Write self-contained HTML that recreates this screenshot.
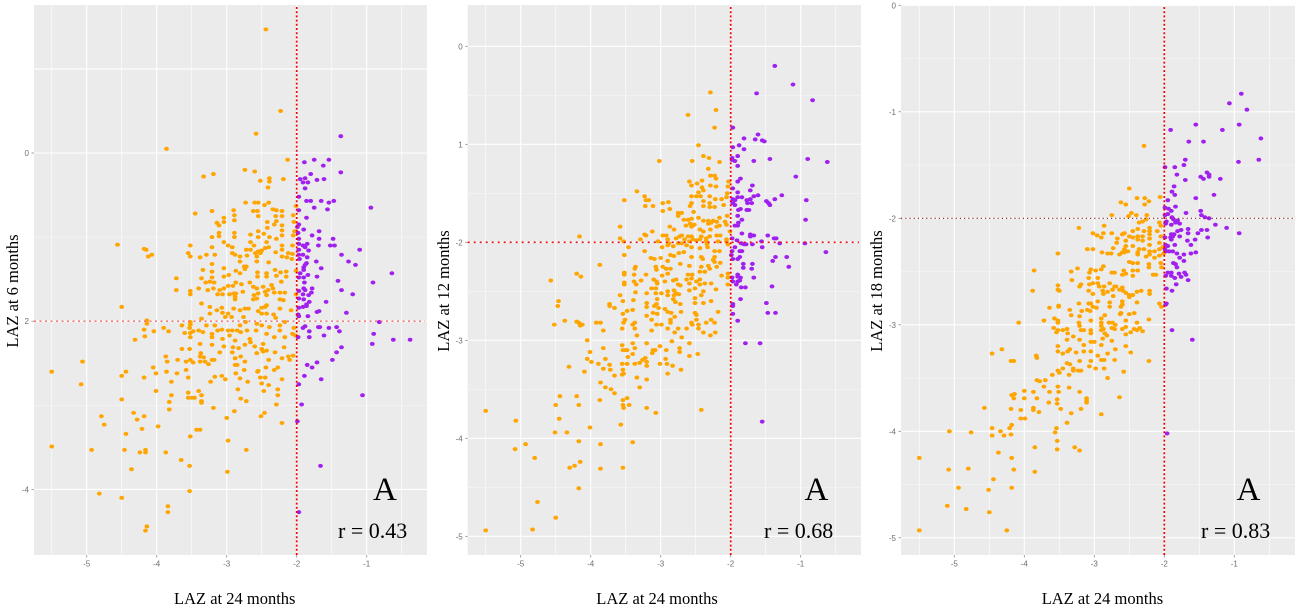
<!DOCTYPE html>
<html lang="en">
<head>
<meta charset="utf-8">
<title>LAZ scatter panels</title>
<style>
html,body{margin:0;padding:0;background:#fff;width:1300px;height:611px;overflow:hidden}
svg{display:block}
.axis-title{font-family:"Liberation Serif",serif;font-size:16.5px;fill:#000}
.tick-label{font-family:"Liberation Sans",sans-serif;font-size:8px;fill:#6e6e6e}
.letter{font-family:"Liberation Serif",serif;font-size:33px;fill:#000}
.corr{font-family:"Liberation Serif",serif;font-size:22px;fill:#000}
</style>
</head>
<body>
<svg id="chart" width="1300" height="611" viewBox="0 0 1300 611" xmlns="http://www.w3.org/2000/svg"></svg>
<script>
const xTicks = [-5, -4, -3, -2, -1];
const xTickLabels = ["-5", "-4", "-3", "-2", "-1"];
const xGridMinor = [-5.5, -4.5, -3.5, -2.5, -1.5, -0.5];
const threshold = -2;

const yTicks6 = [0, -2, -4];
const yTickLabels6 = ["0", "2", "-4"];
const yMajor6 = [1, 0, -2, -4];
const yMinor6 = [-1, -3];

const yTicks12 = [0, -1, -2, -3, -4, -5];
const yTickLabels12 = ["0", "1", "-2", "-3", "-4", "-5"];
const yMajor12 = [0, -1, -2, -3, -4, -5];
const yMinor12 = [-0.5, -1.5, -2.5, -3.5, -4.5];

const yTicks18 = [0, -1, -2, -3, -4, -5];
const yTickLabels18 = ["0", "-1", "-2", "-3", "-4", "-5"];
const yMajor18 = [0, -1, -2, -3, -4, -5];
const yMinor18 = [-0.5, -1.5, -2.5, -3.5, -4.5];

const orange6 = [[-2.44,1.47],[-2.23,.5],[-2.58,.23],[-3.86,.05],[-2.13,-.08],[-2.74,-.2],[-2.6,-.22],[-3.19,-.25],[-3.33,-.28],[-2.52,-.33],[-2.39,-.3],[-2.39,-.34],[-2.19,-.31],[-2.41,-.41],[-2.73,-.59],[-2.6,-.59],[-2.55,-.59],[-2.46,-.62],[-2.4,-.59],[-2.01,-.63],[-2.9,-.68],[-3.21,-.69],[-3.45,-.72],[-2.62,-.69],[-2.56,-.69],[-2.34,-.67],[-2.29,-.68],[-2.21,-.69],[-2.89,-.74],[-2.55,-.75],[-2.3,-.75],[-2.21,-.75],[-2.05,-.74],[-3.04,-.77],[-2.89,-.8],[-3.14,-.83],[-3.04,-.82],[-3.11,-.86],[-2.42,-.82],[-2.29,-.81],[-2.32,-.85],[-2.04,-.82],[-2.21,-.86],[-2.42,-.89],[-2.21,-.92],[-2.55,-.93],[-2.47,-.96],[-2.03,-.93],[-3.11,-.95],[-3.11,-.99],[-2.89,-.95],[-2.89,-1],[-3.21,-1],[-2.66,-.97],[-2.55,-1],[-2.39,-1],[-2.29,-1.02],[-2.21,-.98],[-2.05,-.98],[-2.43,-1.06],[-3.04,-1.06],[-2.66,-1.06],[-3.52,-1.1],[-4.56,-1.09],[-4.18,-1.14],[-4.15,-1.15],[-4.07,-1.21],[-4.12,-1.23],[-3.55,-1.19],[-3.52,-1.23],[-3.38,-1.24],[-3.29,-1.21],[-3.21,-1.12],[-3.17,-1.21],[-2.98,-1.1],[-2.92,-1.12],[-2.92,-1.19],[-2.88,-1.21],[-2.81,-1.23],[-2.72,-1.15],[-2.71,-1.22],[-2.61,-1.1],[-2.66,-1.15],[-2.59,-1.19],[-2.55,-1.17],[-2.5,-1.16],[-2.45,-1.13],[-2.57,-1.23],[-2.52,-1.19],[-2.4,-1.12],[-2.3,-1.18],[-2.21,-1.1],[-2.21,-1.15],[-2.06,-1.1],[-2.21,-1.23],[-2.14,-1.24],[-2.12,-1.19],[-2.07,-1.26],[-2.06,-1.2],[-2.4,-1.3],[-2.57,-1.29],[-2.81,-1.29],[-3.21,-1.32],[-2.75,-1.35],[-2.72,-1.35],[-2.74,-1.38],[-3.04,-1.37],[-3.34,-1.39],[-3.21,-1.41],[-2.87,-1.4],[-2.81,-1.43],[-2.31,-1.39],[-2.15,-1.41],[-2.23,-1.42],[-2.56,-1.42],[-2.56,-1.47],[-2.43,-1.43],[-2.43,-1.47],[-2.29,-1.46],[-2.15,-1.47],[-2.01,-1.4],[-3.72,-1.49],[-3.36,-1.49],[-3.21,-1.48],[-3.04,-1.47],[-2.97,-1.45],[-3.24,-1.53],[-3.18,-1.54],[-3.3,-1.54],[-2.87,-1.54],[-2.79,-1.56],[-2.67,-1.54],[-2.22,-1.53],[-2.98,-1.58],[-2.91,-1.58],[-2.62,-1.59],[-2.57,-1.61],[-2.48,-1.59],[-2.36,-1.57],[-2.34,-1.61],[-3.4,-1.61],[-3.19,-1.61],[-3.04,-1.61],[-3.1,-1.63],[-3.72,-1.63],[-3.52,-1.64],[-3.52,-1.68],[-3.27,-1.63],[-3.13,-1.68],[-3.06,-1.68],[-2.96,-1.68],[-2.9,-1.67],[-2.87,-1.67],[-2.88,-1.71],[-2.88,-1.74],[-2.77,-1.65],[-2.61,-1.69],[-2.55,-1.67],[-2.45,-1.65],[-2.41,-1.63],[-2.43,-1.69],[-2.32,-1.66],[-2.24,-1.66],[-2.17,-1.66],[-2.01,-1.68],[-3.36,-1.79],[-2.43,-1.81],[-2.19,-1.75],[-2.24,-1.74],[-2.57,-1.73],[-2.62,-1.74],[-4.5,-1.83],[-3.36,-1.97],[-3.24,-1.83],[-3.24,-1.91],[-3.14,-1.87],[-3.07,-1.84],[-3.06,-1.9],[-3.02,-1.95],[-2.98,-1.91],[-2.93,-1.95],[-2.9,-1.85],[-2.81,-1.87],[-2.76,-1.95],[-2.74,-1.85],[-2.69,-1.85],[-2.55,-1.88],[-2.5,-1.84],[-2.45,-1.83],[-2.5,-1.91],[-2.43,-1.91],[-2.33,-1.92],[-2.3,-1.96],[-2.24,-1.85],[-2.08,-1.87],[-4.14,-1.99],[-4.14,-2.03],[-4.18,-2.1],[-4.04,-2.12],[-3.9,-2.08],[-3.83,-2.12],[-4.17,-2.18],[-4.31,-2.22],[-3.64,-2.05],[-3.52,-2.01],[-3.52,-2.04],[-3.53,-2.08],[-3.48,-2.12],[-3.6,-2.14],[-3.52,-2.14],[-3.52,-2.19],[-3.4,-2.11],[-3.34,-2.13],[-3.29,-2.05],[-3.17,-2.05],[-3.21,-2.15],[-3.21,-2.19],[-3.13,-2.11],[-3.07,-2.1],[-3.06,-2.21],[-2.98,-2.11],[-2.92,-2.11],[-2.85,-2.11],[-2.81,-2.05],[-2.8,-2.13],[-2.73,-2.01],[-2.71,-2.11],[-2.57,-2.03],[-2.58,-2.11],[-2.5,-2.05],[-2.39,-2.07],[-2.24,-2.05],[-2.24,-2.11],[-2.17,-2.01],[-2.04,-2.08],[-2.06,-2.15],[-2.02,-2.17],[-2.17,-2.19],[-2.32,-2.19],[-2.43,-2.15],[-2.67,-2.21],[-2.88,-2.23],[-2.96,-2.17],[-3.64,-2.33],[-3.53,-2.33],[-3.38,-2.27],[-3.21,-2.28],[-3.04,-2.3],[-2.91,-2.31],[-2.83,-2.32],[-2.74,-2.28],[-2.66,-2.25],[-2.6,-2.3],[-2.48,-2.27],[-2.5,-2.33],[-2.43,-2.35],[-2.18,-2.31],[-2.31,-2.37],[-3.1,-2.37],[-2.92,-2.37],[-3.37,-2.38],[-3.38,-2.42],[-3.33,-2.43],[-3.87,-2.42],[-3.52,-2.46],[-3.7,-2.46],[-3.85,-2.48],[-3.58,-2.48],[-3.48,-2.49],[-3.38,-2.48],[-3.31,-2.48],[-3.26,-2.51],[-3.21,-2.46],[-3.18,-2.46],[-2.88,-2.44],[-2.8,-2.42],[-2.74,-2.48],[-2.88,-2.52],[-2.85,-2.52],[-2.57,-2.38],[-2.48,-2.36],[-2.4,-2.46],[-2.21,-2.44],[-2.12,-2.42],[-2.05,-2.41],[-2.1,-2.46],[-2.44,-2.55],[-2.27,-2.55],[-2.32,-2.58],[-2.75,-2.58],[-2.56,-2.6],[-2.55,-2.59],[-2.87,-2.62],[-4.05,-2.55],[-4.01,-2.62],[-3.86,-2.6],[-3.71,-2.62],[-3.58,-2.58],[-4.44,-2.6],[-4.5,-2.65],[-5.06,-2.48],[-5.5,-2.6],[-5.08,-2.75],[-4.18,-2.67],[-3.79,-2.72],[-3.55,-2.67],[-3.17,-2.66],[-3.07,-2.65],[-3.23,-2.72],[-3.02,-2.69],[-2.81,-2.68],[-2.7,-2.72],[-2.52,-2.67],[-2.45,-2.67],[-2.21,-2.69],[-2.5,-2.74],[-2.4,-2.76],[-4.01,-2.83],[-3.79,-2.88],[-3.55,-2.85],[-3.4,-2.83],[-3.36,-2.88],[-3.55,-2.91],[-3.5,-2.91],[-3.46,-2.91],[-4.5,-2.93],[-3.82,-2.96],[-3.36,-2.95],[-3.36,-2.97],[-3.82,-3.05],[-3.19,-3.03],[-2.84,-2.81],[-2.47,-2.83],[-2.27,-2.81],[-2.27,-2.88],[-2.8,-2.92],[-2.72,-2.95],[-2.29,-2.99],[-2.89,-3.07],[-2.46,-3.09],[-2.51,-3.13],[-3,-3.15],[-2.21,-3.21],[-4.33,-3.09],[-4.18,-3.13],[-4.79,-3.13],[-4.28,-3.17],[-4.75,-3.23],[-3.98,-3.25],[-4.21,-3.28],[-4.44,-3.34],[-3.43,-3.29],[-3.38,-3.29],[-3.52,-3.37],[-2.98,-3.42],[-5.5,-3.49],[-4.93,-3.53],[-4.46,-3.53],[-4.24,-3.56],[-4.16,-3.53],[-4.16,-3.56],[-3.87,-3.56],[-2.72,-3.53],[-3.65,-3.65],[-3.53,-3.72],[-4.36,-3.76],[-2.99,-3.79],[-3.53,-4.02],[-4.82,-4.05],[-4.5,-4.1],[-3.84,-4.2],[-3.84,-4.27],[-4.14,-4.44],[-4.16,-4.49]];
const purple6 = [[-1.37,.2],[-1.37,-.23],[-1.89,-.11],[-1.75,-.08],[-1.54,-.08],[-1.62,-.15],[-1.8,-.25],[-1.95,-.31],[-1.88,-.3],[-1.91,-.35],[-1.84,-.35],[-1.88,-.42],[-1.71,-.32],[-1.61,-.31],[-1.97,-.52],[-1.86,-.57],[-1.8,-.57],[-1.65,-.57],[-1.54,-.59],[-1.47,-.57],[-1.75,-.65],[-1.56,-.67],[-.94,-.65],[-1.97,-.68],[-1.86,-.77],[-1.97,-.85],[-1.99,-.88],[-1.9,-.91],[-1.98,-.95],[-1.68,-.93],[-1.78,-.98],[-1.97,-1.02],[-1.68,-1.02],[-1.48,-1.02],[-1.85,-1.08],[-1.97,-1.08],[-1.91,-1.1],[-1.69,-1.1],[-1.52,-1.1],[-1.46,-1.1],[-1.1,-1.15],[-1.97,-1.15],[-1.88,-1.12],[-1.83,-1.16],[-1.97,-1.21],[-1.91,-1.21],[-1.85,-1.24],[-1.96,-1.26],[-1.36,-1.21],[-1.26,-1.29],[-1.16,-1.33],[-1.72,-1.29],[-1.86,-1.31],[-1.9,-1.36],[-1.88,-1.33],[-1.9,-1.39],[-1.65,-1.37],[-1.95,-1.43],[-1.84,-1.45],[-1.97,-1.48],[-1.9,-1.48],[-1.71,-1.47],[-.64,-1.43],[-1.89,-1.54],[-1.41,-1.52],[-.91,-1.54],[-1.78,-1.61],[-1.9,-1.61],[-1.97,-1.64],[-1.88,-1.63],[-1.36,-1.63],[-1.2,-1.68],[-1.91,-1.68],[-1.83,-1.69],[-1.79,-1.66],[-1.97,-1.73],[-1.9,-1.74],[-1.58,-1.77],[-1.82,-1.77],[-1.86,-1.8],[-1.97,-1.84],[-1.91,-1.83],[-1.86,-1.82],[-1.98,-1.92],[-1.97,-1.94],[-1.84,-1.94],[-1.71,-1.89],[-1.68,-1.88],[-1.29,-1.9],[-.82,-2.01],[-1.88,-2.06],[-1.91,-2.08],[-1.82,-2.12],[-1.69,-2.07],[-1.67,-2.07],[-1.54,-2.08],[-1.43,-2.07],[-1.39,-2.12],[-1.61,-2.17],[-1.82,-2.19],[-1.98,-2.19],[-.9,-2.15],[-.92,-2.27],[-.62,-2.22],[-.38,-2.22],[-1.36,-2.31],[-1.43,-2.37],[-1.49,-2.46],[-1.71,-2.49],[-1.85,-2.52],[-1.78,-2.55],[-1.89,-2.65],[-1.65,-2.69],[-1.97,-2.75],[-1.06,-2.88],[-1.93,-2.99],[-1.99,-3.19],[-1.66,-3.72],[-1.97,-4.27]];

const orange12 = [[-2.29,-.47],[-2.21,-.65],[-2.61,-.7],[-2.23,-.83],[-2.46,-1.01],[-2.39,-1.12],[-2.31,-1.14],[-3.02,-1.17],[-2.55,-1.17],[-2.16,-1.18],[-2.32,-1.25],[-2.29,-1.32],[-2.23,-1.32],[-2.21,-1.35],[-2.41,-1.37],[-2.59,-1.38],[-2.56,-1.42],[-2.48,-1.4],[-2.03,-1.38],[-2.29,-1.42],[-2.21,-1.43],[-2.04,-1.43],[-2.41,-1.44],[-2.39,-1.47],[-2.46,-1.49],[-3.34,-1.48],[-2.05,-1.5],[-3.23,-1.53],[-2.56,-1.53],[-2.49,-1.53],[-2.43,-1.53],[-2.3,-1.53],[-2.22,-1.56],[-2.13,-1.56],[-2.06,-1.54],[-3.52,-1.57],[-3.21,-1.57],[-3.17,-1.57],[-2.97,-1.6],[-2.89,-1.59],[-2.56,-1.6],[-2.39,-1.58],[-2.3,-1.6],[-2.58,-1.63],[-3.22,-1.63],[-3.11,-1.63],[-2.39,-1.63],[-2.3,-1.64],[-2.23,-1.64],[-2.1,-1.62],[-2.87,-1.66],[-2.97,-1.68],[-2.75,-1.7],[-2.7,-1.7],[-2.53,-1.69],[-2.75,-1.73],[-2.05,-1.73],[-2.16,-1.75],[-2.56,-1.76],[-2.46,-1.75],[-2.67,-1.77],[-2.61,-1.77],[-2.32,-1.78],[-2.25,-1.78],[-2.39,-1.78],[-2.2,-1.79],[-2.08,-1.79],[-2.32,-1.81],[-2.28,-1.8],[-2.58,-1.81],[-2.52,-1.82],[-2.16,-1.83],[-2.06,-1.82],[-2.87,-1.84],[-2.64,-1.83],[-2.56,-1.84],[-2.2,-1.84],[-3.58,-1.84],[-2.44,-1.87],[-2.39,-1.89],[-2.29,-1.87],[-2.81,-1.87],[-3.12,-1.89],[-2.01,-1.89],[-3.23,-1.92],[-3.21,-1.93],[-2.97,-1.93],[-2.92,-1.93],[-2.73,-1.94],[-2.7,-1.93],[-2.61,-1.94],[-2.56,-1.94],[-2.42,-1.94],[-2.3,-1.94],[-2.2,-1.93],[-2.15,-1.93],[-4.16,-1.94],[-3.58,-1.96],[-3.29,-1.97],[-2.78,-1.96],[-2.66,-1.97],[-2.44,-1.97],[-2.54,-1.97],[-2.35,-1.96],[-3.53,-1.99],[-2.9,-1.97],[-3.04,-1.99],[-2.88,-2.01],[-2.75,-2.01],[-2.7,-2.01],[-2.59,-1.99],[-2.49,-1.98],[-2.35,-1.99],[-2.34,-2.02],[-2.18,-1.99],[-2.06,-1.99],[-2.04,-2.02],[-2.06,-1.97],[-3.46,-2.05],[-3.23,-2.09],[-2.98,-2.05],[-2.9,-2.03],[-2.82,-2.04],[-2.63,-2.03],[-2.56,-2.05],[-2.44,-2.06],[-2.33,-2.05],[-2.23,-2.09],[-2.16,-2.09],[-2.74,-2.11],[-2.67,-2.1],[-2.86,-2.13],[-2.81,-2.14],[-3.52,-2.13],[-2.56,-2.15],[-2.42,-2.15],[-2.4,-2.17],[-3.14,-2.16],[-3.09,-2.17],[-3,-2.16],[-2.9,-2.19],[-2.23,-2.15],[-2.23,-2.2],[-2.25,-2.18],[-2.72,-2.22],[-2.59,-2.24],[-3.07,-2.25],[-2.97,-2.25],[-3.87,-2.23],[-3.36,-2.25],[-3.37,-2.27],[-2.32,-2.24],[-2.3,-2.27],[-2.42,-2.25],[-2.2,-2.25],[-2.15,-2.21],[-2.92,-2.27],[-2.86,-2.27],[-3.06,-2.28],[-3.52,-2.31],[-3.52,-2.33],[-3.38,-2.33],[-3.21,-2.33],[-2.9,-2.32],[-2.55,-2.33],[-2.61,-2.33],[-2.44,-2.3],[-2.37,-2.3],[-2.13,-2.34],[-2.04,-2.32],[-2.04,-2.36],[-4.57,-2.39],[-4.2,-2.32],[-4.14,-2.35],[-3.1,-2.38],[-2.98,-2.34],[-2.78,-2.38],[-2.82,-2.39],[-2.94,-2.4],[-3.06,-2.4],[-2.63,-2.38],[-2.56,-2.37],[-2.49,-2.4],[-2.44,-2.38],[-2.37,-2.42],[-2.28,-2.42],[-3.52,-2.41],[-3.52,-2.43],[-3.38,-2.4],[-3.35,-2.43],[-3.28,-2.39],[-3.13,-2.47],[-3.2,-2.52],[-3.05,-2.42],[-3.07,-2.47],[-2.75,-2.43],[-2.72,-2.44],[-2.59,-2.42],[-2.44,-2.43],[-2.04,-2.43],[-2.21,-2.48],[-3.36,-2.51],[-3.07,-2.52],[-2.99,-2.52],[-2.9,-2.5],[-2.9,-2.54],[-2.81,-2.49],[-2.78,-2.52],[-2.74,-2.53],[-2.81,-2.54],[-2.59,-2.49],[-2.51,-2.47],[-2.39,-2.5],[-3.58,-2.54],[-2.51,-2.57],[-2.42,-2.54],[-3.39,-2.59],[-3.05,-2.58],[-3.2,-2.62],[-3.06,-2.63],[-2.82,-2.58],[-2.79,-2.61],[-3.54,-2.6],[-4.46,-2.6],[-3.73,-2.63],[-2.72,-2.63],[-2.51,-2.62],[-2.39,-2.62],[-2.28,-2.6],[-4.47,-2.65],[-3.73,-2.65],[-3.66,-2.67],[-3.54,-2.73],[-3.48,-2.7],[-3.4,-2.69],[-3.2,-2.66],[-3.09,-2.65],[-3.03,-2.67],[-2.94,-2.68],[-2.9,-2.71],[-2.85,-2.72],[-2.8,-2.76],[-2.71,-2.71],[-3.11,-2.72],[-3.05,-2.73],[-3.2,-2.75],[-3.13,-2.79],[-3.06,-2.84],[-2.99,-2.84],[-3.37,-2.82],[-3.4,-2.84],[-3.37,-2.88],[-3.51,-2.79],[-3.53,-2.82],[-3.55,-2.88],[-2.86,-2.79],[-2.86,-2.82],[-2.51,-2.72],[-2.49,-2.74],[-2.49,-2.79],[-2.56,-2.82],[-2.55,-2.84],[-2.46,-2.84],[-2.46,-2.88],[-2.35,-2.82],[-2.28,-2.79],[-2.23,-2.82],[-2.18,-2.71],[-2.22,-2.92],[-2.29,-2.95],[-2.39,-2.92],[-2.75,-2.88],[-2.63,-2.88],[-2.9,-2.88],[-2.8,-2.92],[-3.13,-2.9],[-3.34,-2.95],[-2.7,-2.97],[-2.59,-3.03],[-2.84,-3.01],[-3.2,-3.03],[-3.4,-3.03],[-3.55,-3.05],[-4.52,-2.84],[-4.37,-2.8],[-4.2,-2.81],[-4.17,-2.82],[-4.15,-2.85],[-4.12,-2.84],[-3.92,-2.82],[-3.86,-2.82],[-3.82,-2.9],[-4.05,-3],[-3.82,-3.08],[-4.01,-3.12],[-4.05,-3.19],[-3.99,-3.22],[-3.89,-3.24],[-3.79,-3.19],[-3.73,-3.25],[-3.82,-3.29],[-3.72,-3.3],[-4.31,-3.27],[-4.09,-3.32],[-3.66,-3.36],[-3.54,-3.1],[-3.51,-3.1],[-3.48,-3.1],[-3.4,-3.14],[-3.37,-3.08],[-3.47,-3.17],[-3.55,-3.24],[-3.48,-3.24],[-3.37,-3.24],[-3.3,-3.23],[-3.2,-3.22],[-3.26,-3.2],[-3.22,-3.18],[-3.12,-3.13],[-3.11,-3.1],[-3.08,-3.1],[-3.01,-3.06],[-2.92,-3.1],[-2.73,-3.08],[-2.73,-3.12],[-2.93,-3.19],[-2.91,-3.24],[-3.01,-3.24],[-2.83,-3.26],[-3.2,-3.26],[-3.54,-3.3],[-3.53,-3.34],[-3.55,-3.35],[-3.34,-3.38],[-3.2,-3.4],[-2.9,-3.34],[-2.71,-3.3],[-2.59,-3.16],[-2.47,-3.14],[-3.86,-3.43],[-3.79,-3.48],[-3.71,-3.5],[-3.66,-3.54],[-3.3,-3.48],[-4.44,-3.57],[-4.2,-3.57],[-4.5,-3.66],[-4.17,-3.66],[-3.87,-3.61],[-3.54,-3.61],[-3.48,-3.59],[-3.54,-3.66],[-3.53,-3.69],[-3.45,-3.66],[-3.2,-3.69],[-3.07,-3.74],[-2.42,-3.71],[-5.5,-3.72],[-5.07,-3.82],[-4.45,-3.8],[-3.57,-3.86],[-4.01,-3.89],[-4.51,-3.94],[-4.34,-3.94],[-4.17,-4.03],[-3.86,-4.06],[-3.4,-4.04],[-4.93,-4.06],[-5.08,-4.11],[-4.8,-4.2],[-4.15,-4.24],[-4.23,-4.28],[-4.3,-4.3],[-3.86,-4.31],[-3.54,-4.3],[-4.17,-4.51],[-4.76,-4.65],[-4.5,-4.81],[-5.5,-4.94],[-4.83,-4.93]];
const purple12 = [[-1.37,-.2],[-1.11,-.39],[-.83,-.55],[-1.63,-.48],[-1.97,-.83],[-1.61,-.9],[-1.81,-.94],[-1.65,-.95],[-1.55,-.96],[-1.52,-.97],[-1.88,-1.01],[-1.97,-1.03],[-1.81,-1.05],[-1.9,-1.12],[-1.98,-1.14],[-1.98,-1.16],[-1.94,-1.17],[-1.67,-1.17],[-1.44,-1.15],[-.9,-1.15],[-.62,-1.18],[-1.9,-1.22],[-1.07,-1.33],[-1.86,-1.35],[-1.9,-1.38],[-1.69,-1.42],[-1.72,-1.47],[-1.97,-1.45],[-1.9,-1.49],[-1.67,-1.53],[-1.61,-1.52],[-1.27,-1.52],[-1.9,-1.54],[-1.84,-1.54],[-1.97,-1.56],[-1.94,-1.57],[-1.72,-1.56],[-1.77,-1.57],[-1.76,-1.6],[-1.7,-1.6],[-1.37,-1.56],[-.92,-1.57],[-1.49,-1.58],[-1.46,-1.6],[-1.44,-1.62],[-1.97,-1.6],[-1.94,-1.62],[-1.86,-1.66],[-1.89,-1.67],[-1.77,-1.67],[-1.74,-1.67],[-1.9,-1.73],[-.93,-1.77],[-1.84,-1.77],[-1.89,-1.8],[-1.9,-1.83],[-1.94,-1.83],[-1.84,-1.91],[-1.72,-1.92],[-1.72,-1.94],[-1.67,-1.93],[-1.47,-1.93],[-1.98,-1.96],[-1.91,-1.98],[-1.38,-1.96],[-1.35,-1.96],[-1.85,-2.01],[-1.81,-2.02],[-1.78,-2.02],[-1.69,-2.02],[-1.56,-1.99],[-1.3,-2.01],[-.94,-2.01],[-1.94,-2.05],[-1.55,-2.05],[-.64,-2.1],[-1.87,-2.09],[-1.84,-2.09],[-1.98,-2.09],[-1.99,-2.13],[-1.87,-2.15],[-1.9,-2.17],[-1.97,-2.17],[-1.36,-2.15],[-1.2,-2.15],[-1.4,-2.19],[-1.82,-2.22],[-1.82,-2.26],[-1.69,-2.22],[-1.7,-2.27],[-1.17,-2.25],[-1.67,-2.36],[-1.98,-2.36],[-1.9,-2.33],[-1.9,-2.35],[-1.86,-2.36],[-1.97,-2.4],[-1.9,-2.4],[-1.87,-2.39],[-1.92,-2.43],[-1.85,-2.46],[-1.79,-2.46],[-1.41,-2.45],[-1.86,-2.58],[-1.97,-2.63],[-1.49,-2.62],[-1.97,-2.65],[-1.97,-2.73],[-1.47,-2.72],[-1.36,-2.72],[-1.9,-2.8],[-1.79,-3.03],[-1.58,-3.03],[-1.55,-3.83]];

const orange18 = [[-2.29,-1.32],[-2.5,-1.72],[-2.39,-1.81],[-2.28,-1.81],[-2.06,-1.8],[-2.22,-1.84],[-2.62,-1.85],[-2.55,-1.87],[-2.28,-1.87],[-2.75,-1.97],[-2.47,-1.95],[-2.51,-1.98],[-2.4,-1.97],[-2.25,-1.97],[-2.31,-2.03],[-2.36,-2.04],[-2.26,-2.01],[-2.07,-2.04],[-2.86,-2.07],[-3.22,-2.09],[-3.02,-2.14],[-2.96,-2.16],[-2.9,-2.18],[-2.87,-2.14],[-2.75,-2.14],[-2.6,-2.15],[-2.57,-2.14],[-2.45,-2.12],[-2.38,-2.1],[-2.21,-2.09],[-2.21,-2.12],[-2.21,-2.15],[-2.29,-2.12],[-2.05,-2.07],[-2.1,-2.12],[-2.5,-2.17],[-2.45,-2.18],[-2.38,-2.17],[-2.31,-2.17],[-2.21,-2.19],[-2.05,-2.17],[-2.67,-2.19],[-2.55,-2.21],[-2.68,-2.23],[-2.38,-2.2],[-2.31,-2.21],[-2.21,-2.25],[-2.07,-2.23],[-2.55,-2.26],[-2.57,-2.29],[-2.6,-2.32],[-2.45,-2.26],[-2.36,-2.29],[-2.29,-2.29],[-2.21,-2.31],[-2.14,-2.31],[-2.07,-2.29],[-2.02,-2.27],[-3.1,-2.29],[-3.02,-2.29],[-2.73,-2.28],[-2.89,-2.32],[-2.81,-2.33],[-2.76,-2.33],[-2.64,-2.34],[-3.52,-2.33],[-2.57,-2.32],[-2.52,-2.31],[-2.38,-2.32],[-2.38,-2.34],[-2.21,-2.34],[-2.26,-2.36],[-2.14,-2.37],[-2.07,-2.35],[-2.01,-2.33],[-2.5,-2.41],[-2.45,-2.42],[-2.38,-2.42],[-2.22,-2.43],[-2.22,-2.46],[-2.05,-2.42],[-2.04,-2.46],[-3.86,-2.49],[-3.24,-2.47],[-3.33,-2.5],[-3.05,-2.48],[-2.98,-2.49],[-2.9,-2.48],[-2.87,-2.45],[-3.07,-2.51],[-2.75,-2.51],[-2.71,-2.51],[-2.58,-2.49],[-2.6,-2.53],[-2.55,-2.52],[-2.45,-2.49],[-2.38,-2.49],[-2.45,-2.54],[-2.16,-2.53],[-2.12,-2.53],[-2.95,-2.56],[-3.08,-2.56],[-3.32,-2.58],[-3.52,-2.63],[-3.52,-2.67],[-3.5,-2.68],[-3.88,-2.68],[-3.19,-2.62],[-3.21,-2.64],[-3.07,-2.62],[-3.02,-2.61],[-2.95,-2.61],[-2.93,-2.64],[-2.86,-2.64],[-2.78,-2.61],[-2.71,-2.64],[-2.69,-2.64],[-2.6,-2.65],[-2.59,-2.68],[-3.08,-2.68],[-2.88,-2.68],[-2.74,-2.67],[-2.81,-2.69],[-2.64,-2.67],[-3.02,-2.71],[-2.87,-2.71],[-2.73,-2.73],[-2.55,-2.7],[-2.5,-2.72],[-2.45,-2.72],[-2.39,-2.69],[-2.33,-2.68],[-2.21,-2.68],[-2.21,-2.71],[-2.5,-2.74],[-2.95,-2.78],[-3.08,-2.8],[-3.05,-2.8],[-3.22,-2.8],[-2.78,-2.79],[-2.6,-2.78],[-2.6,-2.81],[-2.39,-2.79],[-2.07,-2.8],[-3.51,-2.82],[-3.64,-2.84],[-3.51,-2.83],[-3.35,-2.86],[-3.18,-2.87],[-3.33,-2.91],[-3.57,-2.94],[-3.72,-2.96],[-3.05,-2.96],[-2.9,-2.98],[-3.02,-2.83],[-2.97,-2.84],[-3.1,-2.86],[-3.06,-2.87],[-2.78,-2.83],[-2.62,-2.83],[-2.85,-2.91],[-2.9,-2.94],[-2.62,-2.89],[-2.63,-2.9],[-2.5,-2.9],[-2.43,-2.89],[-2.39,-2.98],[-2.55,-2.96],[-2.22,-2.95],[-2.04,-2.83],[-3.52,-2.96],[-3.52,-2.98],[-3.58,-3.03],[-3.52,-3.05],[-3.54,-3.07],[-3.45,-3.05],[-3.39,-3.04],[-3.38,-3.08],[-3.3,-3.11],[-3.21,-2.92],[-3.22,-2.98],[-3.21,-3.01],[-3.19,-3.05],[-3.15,-3.05],[-3.05,-3.05],[-3.05,-3.08],[-2.9,-3.01],[-2.87,-3.04],[-2.9,-3.05],[-2.85,-3.08],[-2.79,-2.98],[-2.74,-2.98],[-2.7,-3.0],[-2.75,-3.03],[-2.71,-3.04],[-2.62,-2.89],[-2.6,-3.04],[-2.55,-3.02],[-2.55,-3.09],[-2.48,-3.07],[-2.43,-3.04],[-2.35,-3.03],[-2.31,-3.06],[-2.39,-3.05],[-4.08,-2.98],[-4.46,-3.27],[-4.32,-3.23],[-3.83,-3.29],[-3.82,-3.31],[-4.15,-3.34],[-4.19,-3.34],[-3.52,-3.2],[-3.52,-3.25],[-3.45,-3.27],[-3.39,-3.14],[-3.38,-3.25],[-3.35,-3.23],[-3.26,-3.26],[-3.21,-3.14],[-3.15,-3.25],[-3.15,-3.19],[-3.05,-3.16],[-3.05,-3.25],[-3.0,-3.16],[-2.9,-3.19],[-2.88,-3.13],[-2.82,-3.1],[-2.75,-3.15],[-2.7,-3.23],[-2.55,-3.2],[-2.81,-3.27],[-2.48,-3.26],[-2.22,-3.34],[-2.95,-3.29],[-3.45,-3.41],[-3.52,-3.43],[-3.5,-3.45],[-3.6,-3.47],[-3.39,-3.36],[-3.35,-3.37],[-3.36,-3.47],[-3.3,-3.41],[-3.3,-3.43],[-3.21,-3.34],[-3.23,-3.43],[-3.19,-3.43],[-3.07,-3.39],[-3.05,-3.34],[-2.98,-3.41],[-2.9,-3.33],[-2.86,-3.33],[-2.86,-3.41],[-2.71,-3.33],[-2.58,-3.44],[-2.81,-3.5],[-3.82,-3.52],[-3.78,-3.53],[-3.7,-3.52],[-3.72,-3.58],[-3.52,-3.58],[-3.36,-3.59],[-3.64,-3.63],[-3.87,-3.63],[-4.0,-3.62],[-4.14,-3.65],[-4.18,-3.66],[-4.15,-3.69],[-4.0,-3.69],[-3.82,-3.69],[-3.51,-3.63],[-3.53,-3.7],[-3.53,-3.74],[-3.65,-3.73],[-3.21,-3.63],[-3.11,-3.69],[-3.11,-3.71],[-3.11,-3.73],[-2.64,-3.68],[-4.57,-3.78],[-4.19,-3.79],[-4.05,-3.8],[-3.87,-3.78],[-3.87,-3.8],[-3.79,-3.82],[-3.48,-3.79],[-3.19,-3.79],[-3.33,-3.83],[-2.9,-3.84],[-4.05,-3.88],[-3.99,-3.88],[-3.39,-3.92],[-4.18,-3.94],[-4.21,-3.97],[-4.46,-3.97],[-4.34,-4],[-4.76,-4.01],[-5.07,-4],[-4.46,-4.04],[-4.29,-4.04],[-4.19,-4.03],[-3.56,-4.01],[-3.54,-3.97],[-3.53,-4.09],[-3.85,-4.15],[-3.53,-4.17],[-3.28,-4.15],[-3.21,-4.18],[-4.37,-4.2],[-5.5,-4.25],[-4.18,-4.25],[-4.8,-4.35],[-5.08,-4.36],[-4.15,-4.36],[-3.85,-4.38],[-4.44,-4.45],[-4.94,-4.53],[-4.51,-4.55],[-4.18,-4.53],[-5.1,-4.7],[-4.83,-4.73],[-4.5,-4.76],[-5.5,-4.93],[-4.25,-4.93]];
const purple18 = [[-.9,-.83],[-1.07,-.92],[-.82,-.98],[-.93,-1.12],[-1.55,-1.12],[-1.17,-1.17],[-1.91,-1.17],[-.62,-1.25],[-1.65,-1.28],[-1.44,-1.28],[-.65,-1.45],[-.94,-1.47],[-1.7,-1.45],[-1.72,-1.5],[-1.85,-1.52],[-1.99,-1.52],[-1.82,-1.59],[-1.7,-1.64],[-1.39,-1.57],[-1.36,-1.59],[-1.36,-1.61],[-1.48,-1.61],[-1.44,-1.63],[-1.2,-1.63],[-1.86,-1.7],[-1.89,-1.75],[-1.85,-1.78],[-1.29,-1.78],[-1.95,-1.83],[-1.55,-1.81],[-1.99,-1.9],[-1.84,-1.89],[-1.94,-1.91],[-1.9,-1.93],[-1.69,-1.95],[-1.48,-1.93],[-1.47,-1.97],[-1.42,-1.99],[-1.36,-2],[-1.99,-1.97],[-1.95,-1.96],[-1.89,-1.99],[-1.87,-2.01],[-1.81,-2.02],[-1.84,-2.04],[-1.97,-2.03],[-1.98,-2.05],[-1.9,-2.06],[-1.78,-2.05],[-1.27,-2.06],[-1.66,-2.1],[-1.11,-2.09],[-1.39,-2.11],[-.93,-2.14],[-1.99,-2.18],[-1.9,-2.15],[-1.91,-2.18],[-1.88,-2.17],[-1.86,-2.15],[-1.81,-2.12],[-1.76,-2.11],[-1.66,-2.14],[-1.47,-2.11],[-1.52,-2.14],[-1.9,-2.2],[-1.78,-2.17],[-1.38,-2.18],[-1.67,-2.21],[-1.56,-2.2],[-1.98,-2.25],[-1.95,-2.26],[-1.99,-2.29],[-1.85,-2.25],[-1.62,-2.25],[-1.98,-2.31],[-1.93,-2.31],[-1.88,-2.31],[-1.82,-2.33],[-1.72,-2.34],[-1.62,-2.33],[-1.55,-2.32],[-1.78,-2.37],[-1.72,-2.4],[-1.87,-2.42],[-1.84,-2.43],[-1.82,-2.46],[-1.95,-2.51],[-1.9,-2.51],[-1.98,-2.54],[-1.9,-2.54],[-1.79,-2.52],[-1.71,-2.51],[-1.69,-2.53],[-1.85,-2.56],[-1.76,-2.55],[-1.66,-2.58],[-1.83,-2.62],[-1.97,-2.66],[-1.89,-2.68],[-1.98,-2.81],[-1.97,-2.8],[-1.89,-3.05],[-1.6,-3.14],[-1.96,-4.02]];

const svg = document.getElementById('chart');
const NS = 'http://www.w3.org/2000/svg';
function add(parent, tag, attrs, text) {
  const el = document.createElementNS(NS, tag);
  for (const k in attrs) el.setAttribute(k, attrs[k]);
  if (text !== undefined) el.textContent = text;
  parent.appendChild(el);
  return el;
}

function drawPanel(cfg, orange, purple, yTicks, yLabels, yMajor, yMinor) {
  const sx = v => cfg.xAtMinus2 + (v + 2) * cfg.xUnit;
  const sy = v => cfg.yAtZero - v * cfg.yUnit;
  const g = add(svg, 'g', {});
  
  

  const bg = add(g, 'rect', {x: cfg.left, y: cfg.top, width: cfg.right - cfg.left, height: cfg.bottom - cfg.top, fill: '#ebebeb'});
  
  

  xGridMinor.forEach(v => {
    const l = add(g, 'line', {x1: sx(v), x2: sx(v), y1: cfg.top, y2: cfg.bottom, stroke: '#fafafa', 'stroke-width': 0.8});
    
    
  });
  xTicks.forEach(v => {
    const l = add(g, 'line', {x1: sx(v), x2: sx(v), y1: cfg.top, y2: cfg.bottom, stroke: '#fff', 'stroke-width': 1.1});
    
    
  });
  yMinor.forEach(v => {
    const l = add(g, 'line', {x1: cfg.left, x2: cfg.right, y1: sy(v), y2: sy(v), stroke: '#f6f6f6', 'stroke-width': 0.7});
    
    
  });
  yMajor.forEach(v => {
    const l = add(g, 'line', {x1: cfg.left, x2: cfg.right, y1: sy(v), y2: sy(v), stroke: '#fff', 'stroke-width': 1.1});
    
    
  });

  orange.forEach(p => {
    const c = add(g, 'ellipse', {cx: sx(p[0]), cy: sy(p[1]), rx: 2.4, ry: 2, fill: '#ffa500'});
    
    
  });
  purple.forEach(p => {
    const c = add(g, 'ellipse', {cx: sx(p[0]), cy: sy(p[1]), rx: 2.4, ry: 2, fill: '#a020f0'});
    
    
  });

  const vr = add(g, 'line', {x1: sx(threshold), x2: sx(threshold), y1: cfg.top + 2, y2: cfg.bottom, stroke: '#f00000', 'stroke-width': 1.7, 'stroke-dasharray': '2 2.2'});
  
  
  const hr = add(g, 'line', {x1: cfg.left, x2: cfg.right - 2, y1: sy(threshold), y2: sy(threshold), stroke: cfg.hColor, 'stroke-width': cfg.hWidth, 'stroke-dasharray': cfg.hDash});
  
  

  xTicks.forEach((v, i) => {
    const t = add(g, 'line', {x1: sx(v), x2: sx(v), y1: cfg.bottom, y2: cfg.bottom + 2.5, stroke: '#7f7f7f', 'stroke-width': 0.7});
    
    
    const lb = add(g, 'text', {x: sx(v), y: cfg.bottom + 11.5, 'text-anchor': 'middle', class: 'tick-label'}, xTickLabels[i]);
    
    
  });
  yTicks.forEach((v, i) => {
    const t = add(g, 'line', {x1: cfg.left - 2.5, x2: cfg.left, y1: sy(v), y2: sy(v), stroke: '#7f7f7f', 'stroke-width': 0.7});
    
    
    const lb = add(g, 'text', {x: cfg.left - 5, y: sy(v) + 3, 'text-anchor': 'end', class: 'tick-label'}, yLabels[i]);
    
    
  });

  const xt = add(g, 'text', {x: cfg.xTitleX, y: 604, class: 'axis-title'}, 'LAZ at 24 months');
  
  
  const yt = add(g, 'text', {transform: 'translate(' + cfg.yTitleX + ',291) rotate(-90)', 'text-anchor': 'middle', class: 'axis-title'}, cfg.yTitle);
  
  
  const a = add(g, 'text', {x: cfg.letterX, y: 500, class: 'letter'}, 'A');
  
  
  const r = add(g, 'text', {x: cfg.corrX, y: 538, class: 'corr'}, cfg.corr);
  
  
}

drawPanel({name: 'panel-6-months', left: 34, right: 427, top: 5, bottom: 555, xAtMinus2: 296.7, xUnit: 70, yAtZero: 153, yUnit: 84.1,
  hColor: '#f56a6a', hWidth: 1.4, hDash: '2 3.5', xTitleX: 174, yTitleX: 18, yTitle: 'LAZ at 6 months', letterX: 373, corrX: 338, corr: 'r = 0.43'},
  orange6, purple6, yTicks6, yTickLabels6, yMajor6, yMinor6);

drawPanel({name: 'panel-12-months', left: 467.7, right: 861, top: 5, bottom: 555, xAtMinus2: 730.7, xUnit: 70, yAtZero: 46.3, yUnit: 98,
  hColor: '#f01010', hWidth: 1.6, hDash: '2 4', xTitleX: 596.3, yTitleX: 449, yTitle: 'LAZ at 12 months', letterX: 804.5, corrX: 764, corr: 'r = 0.68'},
  orange12, purple12, yTicks12, yTickLabels12, yMajor12, yMinor12);

drawPanel({name: 'panel-18-months', left: 901, right: 1295, top: 5, bottom: 555, xAtMinus2: 1164.3, xUnit: 70, yAtZero: 5.3, yUnit: 106.5,
  hColor: '#8a1a1a', hWidth: 1.1, hDash: '1.2 3', xTitleX: 1041.7, yTitleX: 882, yTitle: 'LAZ at 18 months', letterX: 1236.5, corrX: 1201, corr: 'r = 0.83'},
  orange18, purple18, yTicks18, yTickLabels18, yMajor18, yMinor18);
</script>
</body>
</html>
